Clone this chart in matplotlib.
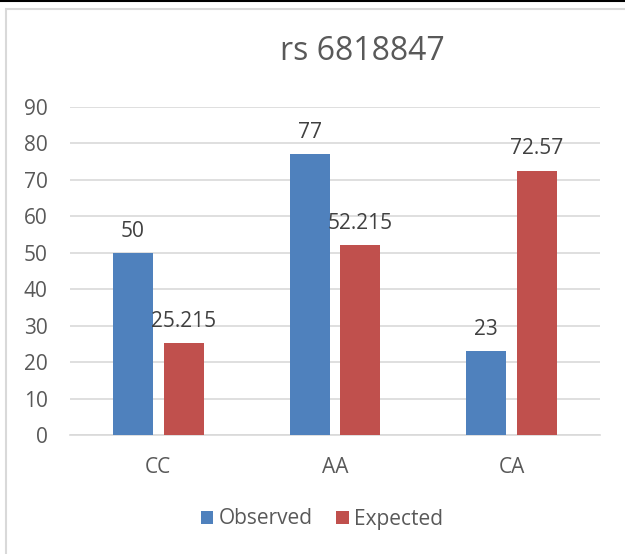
import matplotlib
matplotlib.use("Agg")
import matplotlib.pyplot as plt
from matplotlib.patches import Rectangle
from matplotlib.lines import Line2D
import numpy as np

categories = ["CC", "AA", "CA"]
observed = [50, 77, 23]
expected = [25.215, 52.215, 72.57]
obs_labels = ["50", "77", "23"]
exp_labels = ["25.215", "52.215", "72.57"]
yticks = [0, 10, 20, 30, 40, 50, 60, 70, 80, 90]
title = "rs 6818847"

W, H = 625, 554
plt.rcParams['font.family'] = ['Open Sans', 'DejaVu Sans']
fig = plt.figure(figsize=(W/100, H/100), dpi=100)

# outer borders
fig.add_artist(Line2D([0, 1], [1 - 1/H, 1 - 1/H], color="black", lw=1.5, transform=fig.transFigure))
fig.add_artist(Rectangle((6/W, -0.1), 1.2, (H - 9)/H + 0.1, transform=fig.transFigure,
                         fill=False, edgecolor="#d9d9d9", lw=1.5))

ax = fig.add_axes([70/W, (H - 435)/H, (600 - 70)/W, (435 - 107)/H])
x = np.arange(len(categories))
bw = 0.226
gap = 0.062
blue = "#4f81bd"
red = "#c0504d"
b1 = ax.bar(x - (bw + gap)/2, observed, bw, color=blue, label="Observed", zorder=3)
b2 = ax.bar(x + (bw + gap)/2, expected, bw, color=red, label="Expected", zorder=3)
txtc = "#404040"
for rect, lab in zip(b1, obs_labels):
    ax.annotate(lab, (rect.get_x() + rect.get_width()/2, rect.get_height()), xytext=(0, 8),
                textcoords="offset points", ha="center", va="bottom", fontsize=15, color=txtc)
for rect, lab in zip(b2, exp_labels):
    ax.annotate(lab, (rect.get_x() + rect.get_width()/2, rect.get_height()), xytext=(0, 8),
                textcoords="offset points", ha="center", va="bottom", fontsize=15, color=txtc)

ax.set_xlim(-0.5, 2.5)
ax.set_ylim(0, 90)
ax.set_yticks(yticks)
ax.set_xticks(x)
ax.set_xticklabels(categories)
ax.grid(axis="y", color="#d9d9d9", lw=1.2, zorder=0)
for s in ["top", "right", "left"]:
    ax.spines[s].set_visible(False)
ax.spines["bottom"].set_color("#d9d9d9")
ax.spines["bottom"].set_linewidth(1.2)
ax.tick_params(axis="both", length=0, labelsize=15, labelcolor="#595959")
ax.tick_params(axis="y", pad=16)
ax.tick_params(axis="x", pad=16)

fig.text(362/W, 1 - 52/H, title, ha="center", va="center", fontsize=23, color="#595959")
fig.legend(handles=[b1, b2], labels=["Observed", "Expected"], loc="center",
           bbox_to_anchor=(322/W, 1 - 519/H), ncol=2, frameon=False, fontsize=15,
           handlelength=0.6, handleheight=0.6, handletextpad=0.25, columnspacing=1.15,
           labelcolor="#595959")

fig.savefig("out.png", dpi=100)
